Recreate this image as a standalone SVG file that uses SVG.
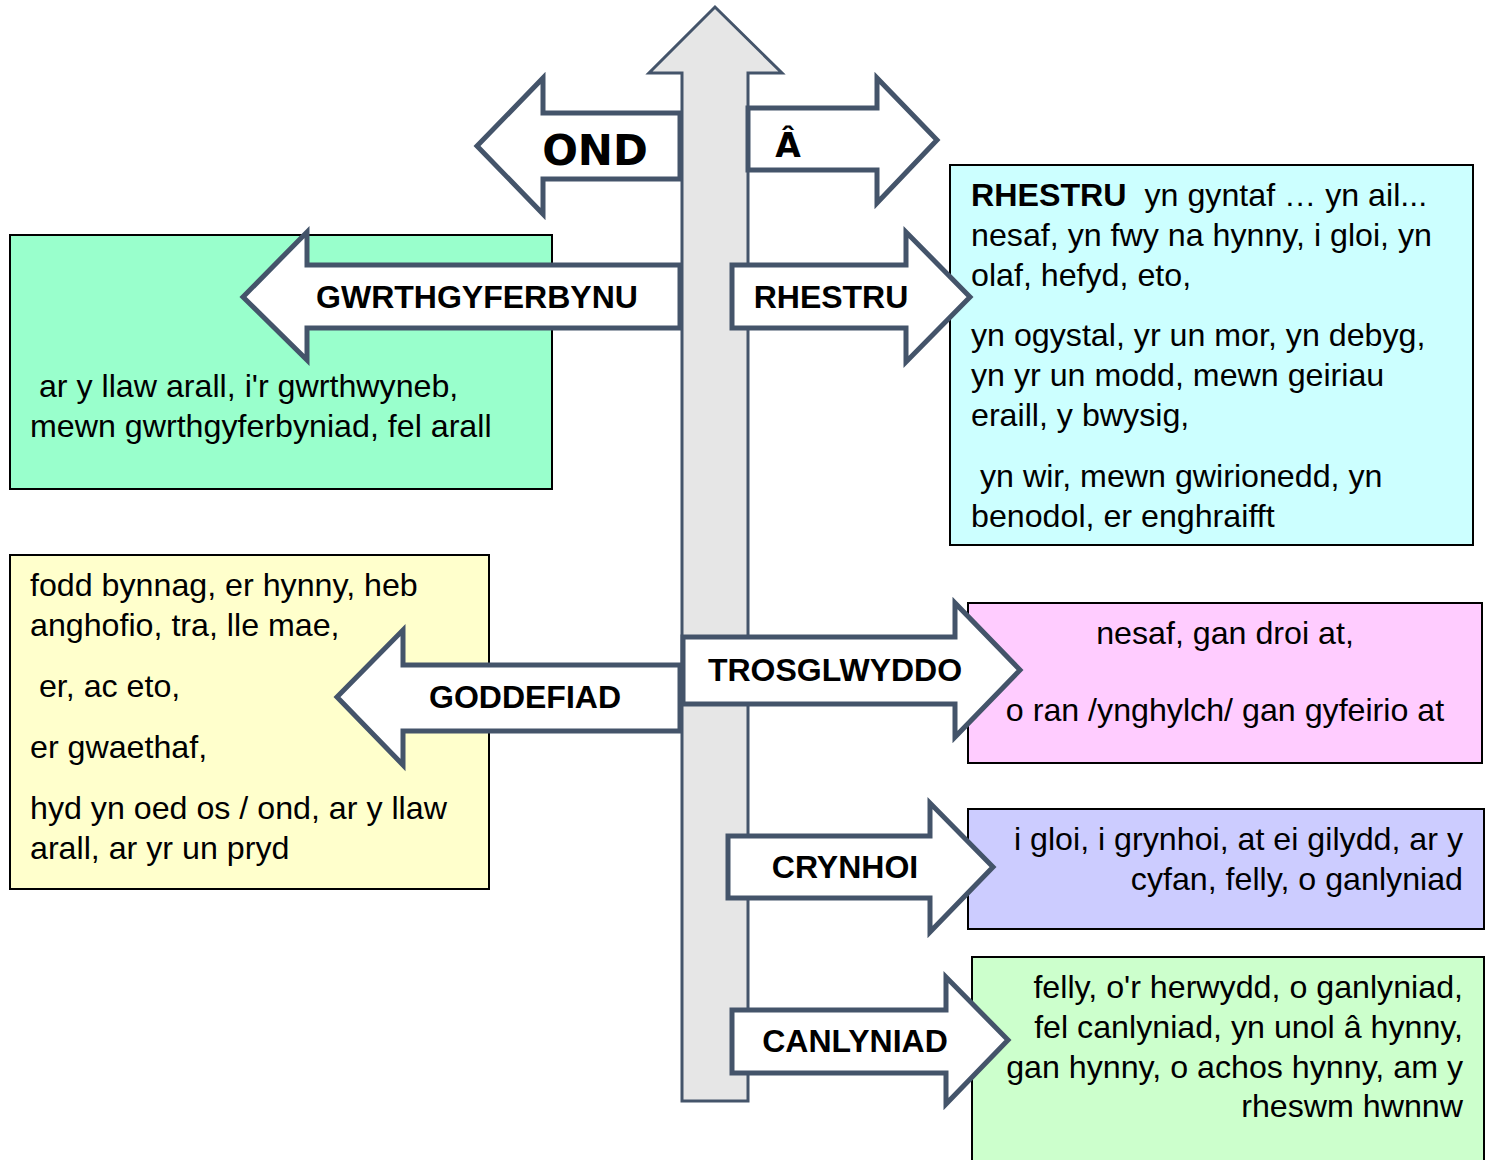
<svg xmlns="http://www.w3.org/2000/svg" width="1486" height="1160" viewBox="0 0 1486 1160">
<style>
.box{stroke:#000;stroke-width:2}
.arr{fill:#fff;stroke:#44546a;stroke-width:5;stroke-linejoin:miter}
.t{font-family:"Liberation Sans",Arial,sans-serif;font-size:32.2px;fill:#000}
.lb{font-family:"Liberation Sans",Arial,sans-serif;font-size:32px;font-weight:bold;fill:#000;text-anchor:middle}
.wide{font-family:"DejaVu Sans",sans-serif;font-weight:bold;fill:#000;text-anchor:middle}
.r{text-anchor:end}
.c{text-anchor:middle}
</style>
<rect width="1486" height="1160" fill="#fff"/>
<g id="connectors">
  <polygon id="main-arrow" points="682,1101 682,73 649,73 715,7 782,73 748,73 748,1101" fill="#e6e6e6" stroke="#44546a" stroke-width="3"/>
</g>
<g id="box-gwrth"><rect class="box" x="10" y="235" width="542" height="254" fill="#99ffcc"/>
  <text class="t" xml:space="preserve"><tspan x="30" y="397"> ar y llaw arall, i'r gwrthwyneb,</tspan><tspan x="30" y="437">mewn gwrthgyferbyniad, fel arall</tspan></text></g>
<g id="box-rhestru"><rect class="box" x="950" y="165" width="523" height="380" fill="#ccffff"/>
  <text class="t" xml:space="preserve"><tspan x="971" y="206"><tspan font-weight="bold">RHESTRU</tspan>  yn gyntaf … yn ail...</tspan><tspan x="971" y="246">nesaf, yn fwy na hynny, i gloi, yn</tspan><tspan x="971" y="286">olaf, hefyd, eto,</tspan><tspan x="971" y="346">yn ogystal, yr un mor, yn debyg,</tspan><tspan x="971" y="386">yn yr un modd, mewn geiriau</tspan><tspan x="971" y="426">eraill, y bwysig,</tspan><tspan x="971" y="487"> yn wir, mewn gwirionedd, yn</tspan><tspan x="971" y="527">benodol, er enghraifft</tspan></text></g>
<g id="box-goddefiad"><rect class="box" x="10" y="555" width="479" height="334" fill="#ffffcc"/>
  <text class="t" xml:space="preserve"><tspan x="30" y="596">fodd bynnag, er hynny, heb</tspan><tspan x="30" y="636">anghofio, tra, lle mae,</tspan><tspan x="30" y="697"> er, ac eto,</tspan><tspan x="30" y="758">er gwaethaf,</tspan><tspan x="30" y="819">hyd yn oed os / ond, ar y llaw</tspan><tspan x="30" y="859">arall, ar yr un pryd</tspan></text></g>
<g id="box-trosglwyddo"><rect class="box" x="968" y="603" width="514" height="160" fill="#ffccff"/>
  <text class="t c"><tspan x="1225" y="644">nesaf, gan droi at,</tspan><tspan x="1225" y="721">o ran /ynghylch/ gan gyfeirio at</tspan></text></g>
<g id="box-crynhoi"><rect class="box" x="968" y="809" width="516" height="120" fill="#ccccff"/>
  <text class="t r"><tspan x="1463" y="850">i gloi, i grynhoi, at ei gilydd, ar y</tspan><tspan x="1463" y="890">cyfan, felly, o ganlyniad</tspan></text></g>
<g id="box-canlyniad"><rect class="box" x="972" y="957" width="512" height="215" fill="#ccffcc"/>
  <text class="t r"><tspan x="1463" y="998">felly, o'r herwydd, o ganlyniad,</tspan><tspan x="1463" y="1038">fel canlyniad, yn unol â hynny,</tspan><tspan x="1463" y="1078">gan hynny, o achos hynny, am y</tspan><tspan x="1463" y="1117">rheswm hwnnw</tspan></text></g>
<g id="arrow-ond"><polygon class="arr" points="680,113 543,113 543,78 477,146 543,214 543,179 680,179"/>
  <text class="wide" x="595" y="165" font-size="42">OND</text></g>
<g id="arrow-a"><polygon class="arr" points="748,108 877,108 877,78 937,140 877,203 877,170 748,170"/>
  <text class="wide" x="788" y="157" font-size="33">Â</text></g>
<g id="arrow-gwrth"><polygon class="arr" points="680,265 307,265 307,232 243,297 307,360 307,328 680,328"/>
  <text class="lb" x="477" y="308">GWRTHGYFERBYNU</text></g>
<g id="arrow-rhestru"><polygon class="arr" points="732,265 906,265 906,232 970,297 906,362 906,328 732,328"/>
  <text class="lb" x="831" y="308">RHESTRU</text></g>
<g id="arrow-goddefiad"><polygon class="arr" points="680,665 403,665 403,630 337,697 403,765 403,731 680,731"/>
  <text class="lb" x="525" y="708">GODDEFIAD</text></g>
<g id="arrow-trosglwyddo"><polygon class="arr" points="683,637 955,637 955,603 1020,670 955,737 955,704 683,704"/>
  <text class="lb" x="835" y="681">TROSGLWYDDO</text></g>
<g id="arrow-crynhoi"><polygon class="arr" points="728,836 930,836 930,803 993,867 930,932 930,898 728,898"/>
  <text class="lb" x="845" y="878">CRYNHOI</text></g>
<g id="arrow-canlyniad"><polygon class="arr" points="732,1010 946,1010 946,977 1008,1040 946,1104 946,1073 732,1073"/>
  <text class="lb" x="855" y="1052">CANLYNIAD</text></g>
</svg>
